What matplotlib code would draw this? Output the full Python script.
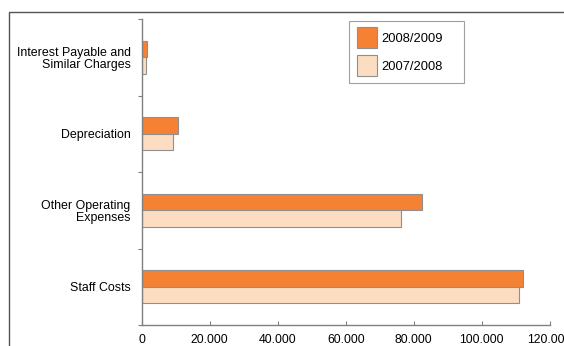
import matplotlib
matplotlib.use("Agg")
import matplotlib.pyplot as plt
import numpy as np
from matplotlib.lines import Line2D
from matplotlib.patches import Rectangle
from matplotlib.ticker import FuncFormatter, FixedLocator

categories = ["Interest Payable and\nSimilar Charges", "Depreciation",
              "Other Operating\nExpenses", "Staff Costs"]
series_names = ["2008/2009", "2007/2008"]
values_0809 = [1.6, 10.6, 82.4, 112.2]
values_0708 = [1.3, 9.1, 76.3, 110.9]
x_ticks = [0, 20, 40, 60, 80, 100, 120]

plt.rcParams['font.family'] = ['Liberation Sans', 'DejaVu Sans']

W, H = 564, 346
fig = plt.figure(figsize=(W/100, H/100), dpi=100)
x0, x1, ytop, ybot = 141.7, 549.7, 19.0, 325.0
ax = fig.add_axes([x0/W, 1-ybot/H, (x1-x0)/W, (ybot-ytop)/H])

y = np.arange(len(categories))
h = 0.215
c1, c2 = "#F58233", "#FDDDC1"
ax.barh(y - h/2, values_0809, height=h, color=c1, edgecolor="#8f8f8f", linewidth=0.8, label=series_names[0])
ax.barh(y + h/2, values_0708, height=h, color=c2, edgecolor="#8f8f8f", linewidth=0.8, label=series_names[1])

ax.set_ylim(len(categories) - 0.5, -0.5)
ax.set_xlim(0, 120)
ax.set_yticks(y)
ax.set_yticklabels(categories, fontsize=8.9, ha='right', multialignment='right', linespacing=1.05)
ax.yaxis.set_minor_locator(FixedLocator(np.arange(-0.5, len(categories), 1.0)))
ax.tick_params(axis='y', which='major', length=0, pad=8)
ax.tick_params(axis='y', which='minor', length=3, color='#808080', width=0.8)
ax.set_xticks(x_ticks)
ax.xaxis.set_major_formatter(FuncFormatter(lambda v, p: "0" if v == 0 else f"{int(v)}.000"))
ax.tick_params(axis='x', direction='in', length=3, color='#808080', width=0.8, labelsize=8.8, pad=6.8)

for s in ['top', 'right']:
    ax.spines[s].set_visible(False)
for s in ['left', 'bottom']:
    ax.spines[s].set_color('#808080')
    ax.spines[s].set_linewidth(1.0)

leg = fig.legend(*ax.get_legend_handles_labels(), loc='upper left',
                 bbox_to_anchor=(356.7/W, 1-26.7/H), bbox_transform=fig.transFigure,
                 fontsize=9.3, frameon=False, handlelength=1.6, handleheight=2.2,
                 borderpad=0, labelspacing=0.5, handletextpad=0.28, borderaxespad=0)

fig.add_artist(Rectangle((349.3/W, 1-82.7/H), (464-349.3)/W, (82.7-20.7)/H,
                         transform=fig.transFigure, fill=False, edgecolor='#a0a0a0', linewidth=0.8))

fig.add_artist(Line2D([9/W, 9/W, 1.0], [0.0, 1-12/H, 1-12/H],
                      transform=fig.transFigure, color='#555555', linewidth=1.0))

fig.savefig("out.png", dpi=100)
